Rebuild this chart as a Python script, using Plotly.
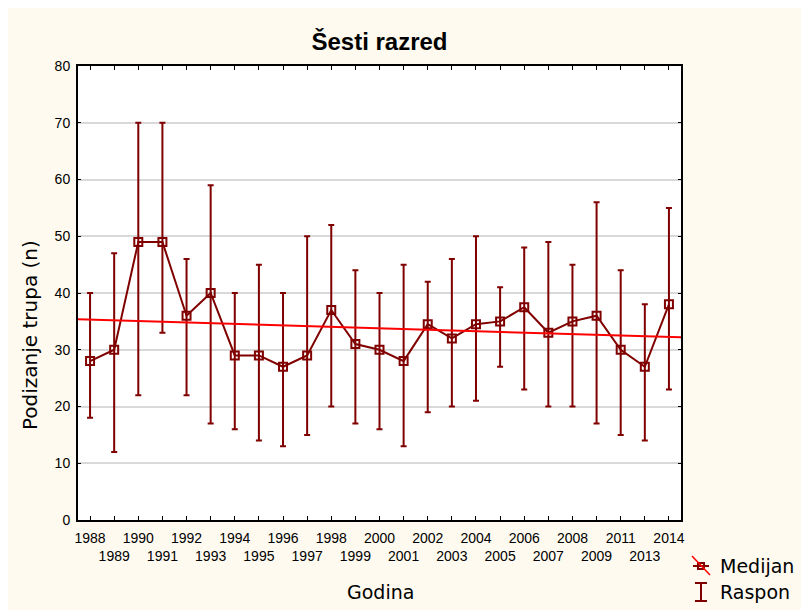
import numpy as np
import plotly.graph_objects as go

years = ["1988", "1989", "1990", "1991", "1992", "1993", "1994", "1995", "1996",
         "1997", "1998", "1999", "2000", "2001", "2002", "2003", "2004", "2005",
         "2006", "2007", "2008", "2009", "2011", "2013", "2014"]
median = [28, 30, 49, 49, 36, 40, 29, 29, 27, 29, 37, 31, 30, 28, 34.5, 32, 34.5,
          35, 37.5, 33, 35, 36, 30, 27, 38]
minimum = [18, 12, 22, 33, 22, 17, 16, 14, 13, 15, 20, 17, 16, 13, 19, 20, 21,
           27, 23, 20, 20, 17, 15, 14, 23]
maximum = [40, 47, 70, 70, 46, 59, 40, 45, 40, 50, 52, 44, 40, 45, 42, 46, 50,
           41, 48, 49, 45, 56, 44, 38, 55]

DARK = "#800000"
idx = np.arange(len(years))
med = np.array(median, dtype=float)
err_plus = np.array(maximum) - med
err_minus = med - np.array(minimum)

# linear trend of medians against case number
slope, intercept = np.polyfit(idx, med, 1)
tx = np.array([-0.5, len(years) - 0.5])
ty = slope * tx + intercept

ticktext = [y if i % 2 == 0 else "<br>" + y for i, y in enumerate(years)]

W, H = 809, 610
OFF = 8  # page body margin
L, R, T, B = 70, 136, 58, 98
pw, ph = W - L - R, H - T - B
TXT = "DejaVu Sans, Verdana, sans-serif"


def px(x):
    return (x - OFF - L) / pw


def py(y):
    return (H - B - (y - OFF)) / ph


fig = go.Figure()
fig.add_trace(go.Scatter(
    x=idx, y=med, mode="lines+markers",
    line=dict(color=DARK, width=2),
    marker=dict(symbol="square-open", size=8, color=DARK, line=dict(width=2)),
    error_y=dict(type="data", symmetric=False, array=err_plus, arrayminus=err_minus,
                 color=DARK, thickness=2, width=3),
    showlegend=False, hoverinfo="skip"))
fig.add_trace(go.Scatter(
    x=tx, y=ty, mode="lines", line=dict(color="#FF0000", width=2),
    showlegend=False, hoverinfo="skip"))

shapes = []
# legend: Medijan symbol
shapes.append(dict(type="line", xref="paper", yref="paper",
                   x0=px(693), x1=px(709), y0=py(566), y1=py(566),
                   line=dict(color=DARK, width=2)))
shapes.append(dict(type="rect", xref="paper", yref="paper",
                   x0=px(698), x1=px(704), y0=py(563), y1=py(569),
                   line=dict(color=DARK, width=2)))
shapes.append(dict(type="line", xref="paper", yref="paper",
                   x0=px(692), x1=px(710), y0=py(556), y1=py(575),
                   line=dict(color="#FF0000", width=1.5)))
# legend: Raspon symbol
shapes.append(dict(type="line", xref="paper", yref="paper",
                   x0=px(701), x1=px(701), y0=py(583), y1=py(601),
                   line=dict(color=DARK, width=2)))
shapes.append(dict(type="line", xref="paper", yref="paper",
                   x0=px(695), x1=px(707), y0=py(583), y1=py(583),
                   line=dict(color=DARK, width=2)))
shapes.append(dict(type="line", xref="paper", yref="paper",
                   x0=px(695), x1=px(707), y0=py(601), y1=py(601),
                   line=dict(color=DARK, width=2)))

annotations = [
    dict(text="Medijan", xref="paper", yref="paper", x=px(718), y=py(566),
         xanchor="left", yanchor="middle", showarrow=False,
         font=dict(family=TXT, size=19, color="#000000")),
    dict(text="Raspon", xref="paper", yref="paper", x=px(718), y=py(592),
         xanchor="left", yanchor="middle", showarrow=False,
         font=dict(family=TXT, size=19, color="#000000")),
    dict(text="Godina", xref="paper", yref="paper", x=px(380), y=py(592),
         xanchor="center", yanchor="middle", showarrow=False,
         font=dict(family=TXT, size=19, color="#000000")),
    dict(text="Podizanje trupa (n)", xref="paper", yref="paper", x=px(30), y=py(335),
         xanchor="center", yanchor="middle", showarrow=False, textangle=-90,
         font=dict(family=TXT, size=20, color="#000000")),
]

fig.update_layout(
    width=W, height=H,
    margin=dict(l=L, r=R, t=T, b=B),
    paper_bgcolor="#FEFAEF", plot_bgcolor="#FFFFFF",
    font=dict(family="Liberation Sans, Arial, sans-serif", color="#000000"),
    title=dict(text="<b>Šesti razred</b>", x=(L + pw / 2) / W, xanchor="center",
               y=1 - (42 - OFF) / H, yanchor="middle",
               font=dict(family="Liberation Sans, Arial, sans-serif", size=24)),
    showlegend=False,
    shapes=shapes, annotations=annotations,
    xaxis=dict(range=[-0.5, len(years) - 0.5], tickmode="array", tickvals=idx,
               ticktext=ticktext, tickangle=0, automargin=False,
               ticks="inside", ticklen=4, tickwidth=1, ticklabelstandoff=4,
               tickcolor="#000000", showline=True, linecolor="#000000", linewidth=2,
               mirror="ticks", showgrid=False, zeroline=False,
               tickfont=dict(size=14)),
    yaxis=dict(range=[0, 80], dtick=10, ticks="inside", ticklen=3, tickwidth=1,
               automargin=False, ticklabelstandoff=3,
               tickcolor="#000000", showline=True, linecolor="#000000", linewidth=2,
               mirror="ticks", showgrid=True, gridcolor="#D9D9D9", gridwidth=2,
               zeroline=False, tickfont=dict(size=14)),
)

fig.write_html("out.html")
